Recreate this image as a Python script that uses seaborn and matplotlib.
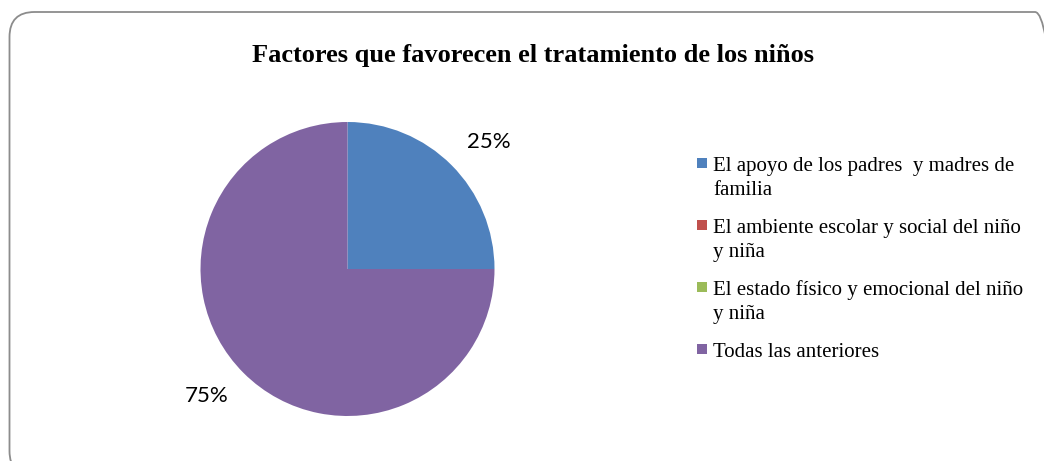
import matplotlib
matplotlib.use("Agg")
import math
import matplotlib.pyplot as plt
from matplotlib.patches import FancyBboxPatch, Rectangle
import seaborn as sns

# Data
categories = ["El apoyo de los padres  y madres de\nfamilia",
              "El ambiente escolar y social del niño\ny niña",
              "El estado físico y emocional del niño\ny niña",
              "Todas las anteriores"]
values = [25, 0, 0, 75]
colors = ["#4F81BD", "#C0504D", "#9BBB59", "#8064A2"]
title = "Factores que favorecen el tratamiento de los niños"

sns.set_theme(style="white")
W, H = 1044, 461
fig = plt.figure(figsize=(W / 100, H / 100), dpi=100)
fig.patch.set_facecolor("white")

# rounded chart frame (pixels -> inches)
frame = FancyBboxPatch((9.5 / 100, -15 / 100), (1060 - 9.5) / 100, (449 + 15) / 100,
                       boxstyle="round,pad=0,rounding_size=0.25",
                       transform=fig.dpi_scale_trans, facecolor="none",
                       edgecolor="#8c8c8c", linewidth=1.3)
fig.add_artist(frame)

# pie
cx, cy, r = 347.5, 269, 147
ax = fig.add_axes([(cx - r) / W, 1 - (cy + r) / H, 2 * r / W, 2 * r / H])


def pct(p):
    return "%d%%" % round(p) if p > 0 else ""


wedges, texts, autotexts = ax.pie(values, colors=colors, startangle=90, counterclock=False,
                                  autopct=pct, pctdistance=1.29,
                                  wedgeprops=dict(linewidth=0),
                                  textprops=dict(fontfamily="Lato", fontsize=16, color="black"))
# nudge the percentage labels a little clockwise, like the original
rot = math.radians(-3)
for t in autotexts:
    x, y = t.get_position()
    t.set_position((x * math.cos(rot) - y * math.sin(rot), x * math.sin(rot) + y * math.cos(rot)))
ax.set_xlim(-1, 1)
ax.set_ylim(-1, 1)
ax.set_aspect("equal")
ax.axis("off")

# title
fig.text(533 / W, 1 - 62 / H, title, ha="center", va="baseline", color="black",
         fontfamily="Liberation Serif", fontweight="bold", fontsize=19)

# legend
for i, (lab, col) in enumerate(zip(categories, colors)):
    base = 171 + 62 * i
    fig.add_artist(Rectangle((697 / W, 1 - (base - 3) / H), 10 / W, 10 / H,
                             transform=fig.transFigure, facecolor=col,
                             edgecolor="none"))
    for j, line in enumerate(lab.split("\n")):
        fig.text(713 / W, 1 - (base + 24 * j) / H, line, ha="left", va="baseline",
                 fontfamily="Liberation Serif", fontsize=15, color="black")

fig.savefig("out.png", dpi=100, facecolor="white")
